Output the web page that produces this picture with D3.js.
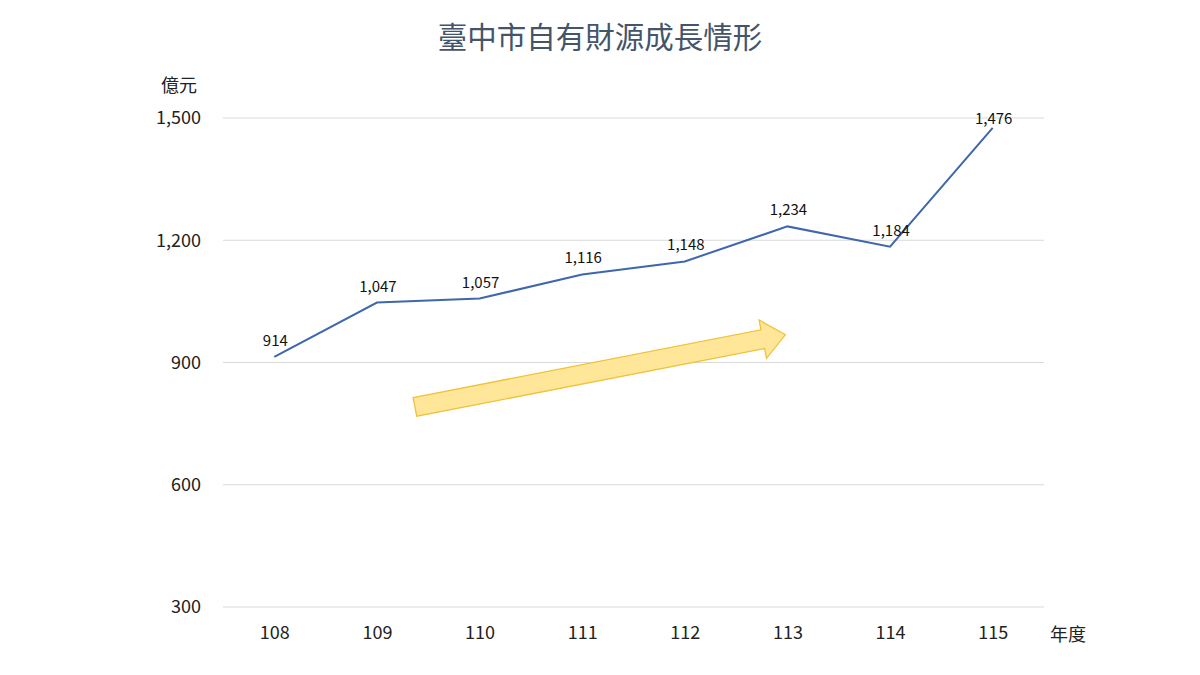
<!DOCTYPE html>
<html>
<head>
<meta charset="utf-8">
<script src="https://cdn.jsdelivr.net/npm/d3@7"></script>
<style>
  body { margin: 0; background: #fff; }
  svg text { font-family: "Noto Sans CJK TC", "Noto Sans", sans-serif; }
</style>
</head>
<body>
<div id="container"></div>
<script>
// data
const years = [108, 109, 110, 111, 112, 113, 114, 115];
const revenue = [914, 1047, 1057, 1116, 1148, 1234, 1184, 1476];
const yTicks = [300, 600, 900, 1200, 1500];
// trend arrow, in chart units (year position, value)
const arrowFrom = [109.37, 791];
const arrowTo = [112.98, 968];

const width = 1200;
const height = 675;
const margin = { top: 118, right: 156, bottom: 68, left: 223 };

let svg = d3.select("#container").append("svg")
    .attr("width", width)
    .attr("height", height);

let x = d3.scaleLinear()
    .domain([d3.min(years) - 0.5, d3.max(years) + 0.5])
    .range([margin.left, width - margin.right]);

let y = d3.scaleLinear()
    .domain([300, 1500])
    .range([height - margin.bottom, margin.top]);

// gridlines
svg.append("g")
    .selectAll("line")
    .data(yTicks)
    .enter()
    .append("line")
    .attr("x1", margin.left)
    .attr("x2", width - margin.right)
    .attr("y1", d => y(d))
    .attr("y2", d => y(d))
    .attr("stroke", "#d9d9d9")
    .attr("stroke-width", 1);

// y axis labels
let yAxis = svg.append("g")
    .attr("transform", `translate(${margin.left - 22},0)`)
    .call(d3.axisLeft(y).tickValues(yTicks).tickFormat(d3.format(",")).tickSize(0));
yAxis.select(".domain").remove();
yAxis.selectAll("text")
    .attr("x", 0)
    .style("font-size", "18px")
    .attr("fill", "#222");

// x axis labels
let xAxis = svg.append("g")
    .attr("transform", `translate(0,${height - margin.bottom})`)
    .call(d3.axisBottom(x).tickValues(years).tickFormat(d => d).tickSize(0));
xAxis.select(".domain").remove();
xAxis.selectAll("text")
    .attr("dy", "1.05em")
    .attr("y", 13)
    .style("font-size", "18px")
    .attr("fill", "#222");

// trend arrow
const ax0 = x(arrowFrom[0]), ay0 = y(arrowFrom[1]);
const ax1 = x(arrowTo[0]), ay1 = y(arrowTo[1]);
const len = Math.hypot(ax1 - ax0, ay1 - ay0);
const ang = Math.atan2(ay1 - ay0, ax1 - ax0) * 180 / Math.PI;
const shaft = 9.5, head = 19.5, headLen = 23;
const arrowPts = [
    [0, -shaft], [len - headLen, -shaft], [len - headLen, -head], [len, 0],
    [len - headLen, head], [len - headLen, shaft], [0, shaft]
];
svg.append("path")
    .attr("d", d3.line()(arrowPts) + "Z")
    .attr("transform", `translate(${ax0},${ay0}) rotate(${ang})`)
    .attr("fill", "#ffe699")
    .attr("stroke", "#efc23a")
    .attr("stroke-width", 1.3)
    .attr("stroke-linejoin", "miter");

// line
const data = years.map((yr, i) => ({ x: yr, y: revenue[i] }));
let line = d3.line()
    .x(d => x(d.x))
    .y(d => y(d.y));

svg.append("path")
    .datum(data)
    .attr("fill", "none")
    .attr("stroke", "#3f67ad")
    .attr("stroke-width", 2)
    .attr("d", line);

// data labels
svg.append("g")
    .selectAll("text")
    .data(data)
    .enter()
    .append("text")
    .attr("x", d => x(d.x) + 1)
    .attr("y", d => Math.max(y(d.y) - 11, margin.top + 6))
    .attr("text-anchor", "middle")
    .style("font-size", "15px")
    .attr("fill", "#111")
    .text(d => d3.format(",")(d.y));

// title and axis names
svg.append("text")
    .attr("x", width / 2)
    .attr("y", 48)
    .attr("text-anchor", "middle")
    .style("font-size", "29.5px")
    .attr("fill", "#44546a")
    .text("臺中市自有財源成長情形");

svg.append("text")
    .attr("x", 179)
    .attr("y", 92)
    .attr("text-anchor", "middle")
    .style("font-size", "18px")
    .attr("fill", "#222")
    .text("億元");

svg.append("text")
    .attr("x", 1068)
    .attr("y", 641)
    .attr("text-anchor", "middle")
    .style("font-size", "18px")
    .attr("fill", "#222")
    .text("年度");
</script>
</body>
</html>
